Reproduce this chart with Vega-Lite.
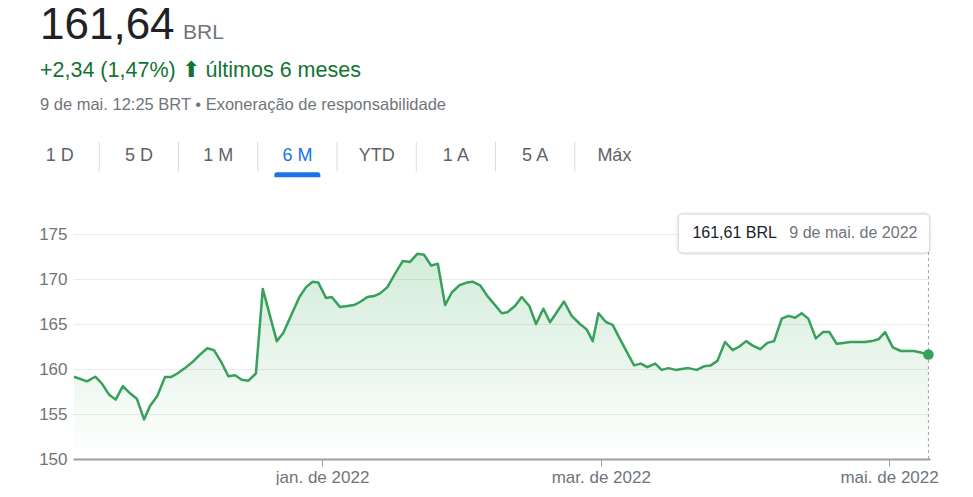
{
  "$schema": "https://vega.github.io/schema/vega-lite/v6.json",
  "background": "white",
  "padding": {"left": 20, "top": 4, "right": 0, "bottom": 0},
  "bounds": "flush",
  "spacing": 0,
  "config": {
    "view": {"stroke": null},
    "font": "Liberation Sans",
    "title": {"anchor": "start", "frame": "group", "offset": 0, "baseline": "alphabetic", "font": "Liberation Sans", "fontWeight": "normal", "dx": 20},
    "locale": {
      "number": {"decimal": ",", "thousands": ".", "grouping": [3], "currency": ["", " BRL"]},
      "time": {
        "dateTime": "%A, %e de %B de %Y. %X",
        "date": "%d/%m/%Y",
        "time": "%H:%M:%S",
        "periods": ["AM", "PM"],
        "days": ["domingo", "segunda", "terça", "quarta", "quinta", "sexta", "sábado"],
        "shortDays": ["dom", "seg", "ter", "qua", "qui", "sex", "sáb"],
        "months": ["janeiro", "fevereiro", "março", "abril", "maio", "junho", "julho", "agosto", "setembro", "outubro", "novembro", "dezembro"],
        "shortMonths": ["jan.", "fev.", "mar.", "abr.", "mai.", "jun.", "jul.", "ago.", "set.", "out.", "nov.", "dez."]
      }
    }
  },
  "datasets": {
    "tabs": [
      {"tab": "1 D", "selected": false},
      {"tab": "5 D", "selected": false},
      {"tab": "1 M", "selected": false},
      {"tab": "6 M", "selected": true},
      {"tab": "YTD", "selected": false},
      {"tab": "1 A", "selected": false},
      {"tab": "5 A", "selected": false},
      {"tab": "Máx", "selected": false}
    ],
    "prices": [
      {"date": "2021-11-09T12:00:00Z", "price": 159.14},
      {"date": "2021-11-12T06:00:00Z", "price": 158.63},
      {"date": "2021-11-14T00:00:00Z", "price": 159.14},
      {"date": "2021-11-15T09:00:00Z", "price": 158.4},
      {"date": "2021-11-17T00:00:00Z", "price": 157.1},
      {"date": "2021-11-18T08:00:00Z", "price": 156.6},
      {"date": "2021-11-19T20:00:00Z", "price": 158.1},
      {"date": "2021-11-21T09:00:00Z", "price": 157.3},
      {"date": "2021-11-22T19:00:00Z", "price": 156.7},
      {"date": "2021-11-24T08:00:00Z", "price": 154.4},
      {"date": "2021-11-25T14:00:00Z", "price": 155.9},
      {"date": "2021-11-27T03:00:00Z", "price": 157.0},
      {"date": "2021-11-28T18:00:00Z", "price": 159.1},
      {"date": "2021-11-30T00:00:00Z", "price": 159.1},
      {"date": "2021-12-01T09:00:00Z", "price": 159.5},
      {"date": "2021-12-03T00:00:00Z", "price": 160.1},
      {"date": "2021-12-04T15:00:00Z", "price": 160.8},
      {"date": "2021-12-06T04:00:00Z", "price": 161.6},
      {"date": "2021-12-07T17:00:00Z", "price": 162.3},
      {"date": "2021-12-09T03:00:00Z", "price": 162.1},
      {"date": "2021-12-10T18:00:00Z", "price": 160.7},
      {"date": "2021-12-12T04:00:00Z", "price": 159.2},
      {"date": "2021-12-13T14:00:00Z", "price": 159.3},
      {"date": "2021-12-15T00:00:00Z", "price": 158.8},
      {"date": "2021-12-16T10:00:00Z", "price": 158.7},
      {"date": "2021-12-18T00:00:00Z", "price": 159.5},
      {"date": "2021-12-19T11:00:00Z", "price": 168.9},
      {"date": "2021-12-22T10:00:00Z", "price": 163.1},
      {"date": "2021-12-23T19:00:00Z", "price": 164.0},
      {"date": "2021-12-25T14:00:00Z", "price": 166.1},
      {"date": "2021-12-27T05:00:00Z", "price": 168.0},
      {"date": "2021-12-28T15:00:00Z", "price": 169.1},
      {"date": "2021-12-30T00:00:00Z", "price": 169.7},
      {"date": "2021-12-31T05:00:00Z", "price": 169.6},
      {"date": "2022-01-01T20:00:00Z", "price": 167.9},
      {"date": "2022-01-03T01:00:00Z", "price": 168.0},
      {"date": "2022-01-04T19:00:00Z", "price": 166.9},
      {"date": "2022-01-06T08:00:00Z", "price": 167.0},
      {"date": "2022-01-07T18:00:00Z", "price": 167.1},
      {"date": "2022-01-09T05:00:00Z", "price": 167.5},
      {"date": "2022-01-10T14:00:00Z", "price": 168.0},
      {"date": "2022-01-12T00:00:00Z", "price": 168.1},
      {"date": "2022-01-13T07:00:00Z", "price": 168.4},
      {"date": "2022-01-14T20:00:00Z", "price": 169.1},
      {"date": "2022-01-16T11:00:00Z", "price": 170.6},
      {"date": "2022-01-18T02:00:00Z", "price": 172.0},
      {"date": "2022-01-19T15:00:00Z", "price": 171.9},
      {"date": "2022-01-21T04:00:00Z", "price": 172.8},
      {"date": "2022-01-22T14:00:00Z", "price": 172.7},
      {"date": "2022-01-24T02:00:00Z", "price": 171.5},
      {"date": "2022-01-25T12:00:00Z", "price": 171.7},
      {"date": "2022-01-27T01:00:00Z", "price": 167.1},
      {"date": "2022-01-28T11:00:00Z", "price": 168.5},
      {"date": "2022-01-30T01:00:00Z", "price": 169.3},
      {"date": "2022-01-31T15:00:00Z", "price": 169.6},
      {"date": "2022-02-01T21:00:00Z", "price": 169.7},
      {"date": "2022-02-03T11:00:00Z", "price": 169.3},
      {"date": "2022-02-05T00:00:00Z", "price": 168.1},
      {"date": "2022-02-06T15:00:00Z", "price": 167.1},
      {"date": "2022-02-08T01:00:00Z", "price": 166.2},
      {"date": "2022-02-09T05:00:00Z", "price": 166.3},
      {"date": "2022-02-10T20:00:00Z", "price": 167.0},
      {"date": "2022-02-12T06:00:00Z", "price": 168.0},
      {"date": "2022-02-13T21:00:00Z", "price": 167.0},
      {"date": "2022-02-15T07:00:00Z", "price": 165.0},
      {"date": "2022-02-16T20:00:00Z", "price": 166.7},
      {"date": "2022-02-18T06:00:00Z", "price": 165.2},
      {"date": "2022-02-19T16:00:00Z", "price": 166.3},
      {"date": "2022-02-21T05:00:00Z", "price": 167.5},
      {"date": "2022-02-22T20:00:00Z", "price": 165.9},
      {"date": "2022-02-24T14:00:00Z", "price": 165.0},
      {"date": "2022-02-26T00:00:00Z", "price": 164.4},
      {"date": "2022-02-27T07:00:00Z", "price": 163.1},
      {"date": "2022-02-28T12:00:00Z", "price": 166.2},
      {"date": "2022-03-02T03:00:00Z", "price": 165.2},
      {"date": "2022-03-03T12:00:00Z", "price": 164.9},
      {"date": "2022-03-05T02:00:00Z", "price": 163.3},
      {"date": "2022-03-06T12:00:00Z", "price": 161.9},
      {"date": "2022-03-08T01:00:00Z", "price": 160.4},
      {"date": "2022-03-09T11:00:00Z", "price": 160.6},
      {"date": "2022-03-10T20:00:00Z", "price": 160.2},
      {"date": "2022-03-12T12:00:00Z", "price": 160.6},
      {"date": "2022-03-13T21:00:00Z", "price": 159.9},
      {"date": "2022-03-15T07:00:00Z", "price": 160.1},
      {"date": "2022-03-16T21:00:00Z", "price": 159.9},
      {"date": "2022-03-18T03:00:00Z", "price": 160.0},
      {"date": "2022-03-19T12:00:00Z", "price": 160.1},
      {"date": "2022-03-21T07:00:00Z", "price": 159.9},
      {"date": "2022-03-22T20:00:00Z", "price": 160.3},
      {"date": "2022-03-24T06:00:00Z", "price": 160.4},
      {"date": "2022-03-25T16:00:00Z", "price": 160.9},
      {"date": "2022-03-27T07:00:00Z", "price": 163.0},
      {"date": "2022-03-28T22:00:00Z", "price": 162.1},
      {"date": "2022-03-30T08:00:00Z", "price": 162.5},
      {"date": "2022-03-31T18:00:00Z", "price": 163.1},
      {"date": "2022-04-02T04:00:00Z", "price": 162.6},
      {"date": "2022-04-03T17:00:00Z", "price": 162.2},
      {"date": "2022-04-05T06:00:00Z", "price": 162.9},
      {"date": "2022-04-06T16:00:00Z", "price": 163.1},
      {"date": "2022-04-08T07:00:00Z", "price": 165.6},
      {"date": "2022-04-09T17:00:00Z", "price": 165.9},
      {"date": "2022-04-11T03:00:00Z", "price": 165.7},
      {"date": "2022-04-12T12:00:00Z", "price": 166.2},
      {"date": "2022-04-13T22:00:00Z", "price": 165.6},
      {"date": "2022-04-15T12:00:00Z", "price": 163.4},
      {"date": "2022-04-17T00:00:00Z", "price": 164.1},
      {"date": "2022-04-18T09:00:00Z", "price": 164.1},
      {"date": "2022-04-19T22:00:00Z", "price": 162.8},
      {"date": "2022-04-21T08:00:00Z", "price": 162.9},
      {"date": "2022-04-22T18:00:00Z", "price": 163.0},
      {"date": "2022-04-24T07:00:00Z", "price": 163.0},
      {"date": "2022-04-25T22:00:00Z", "price": 163.0},
      {"date": "2022-04-27T08:00:00Z", "price": 163.1},
      {"date": "2022-04-28T18:00:00Z", "price": 163.3},
      {"date": "2022-04-30T04:00:00Z", "price": 164.1},
      {"date": "2022-05-01T19:00:00Z", "price": 162.4},
      {"date": "2022-05-03T12:00:00Z", "price": 162.0},
      {"date": "2022-05-04T18:00:00Z", "price": 162.0},
      {"date": "2022-05-06T07:00:00Z", "price": 162.0},
      {"date": "2022-05-07T22:00:00Z", "price": 161.8},
      {"date": "2022-05-09T08:00:00Z", "price": 161.61}
    ]
  },
  "vconcat": [
    {
      "hconcat": [
        {"width": 143, "height": 1, "data": {"values": []}, "mark": "text", "encoding": {}, "title": {"text": "161,64", "fontSize": 44, "color": "#202124", "dy": -33}},
        {"width": 700, "height": 1, "data": {"values": []}, "mark": "text", "encoding": {}, "title": {"text": "BRL", "fontSize": 21, "color": "#70757a", "dy": -38}}
      ],
      "spacing": 0,
      "bounds": "flush"
    },
    {"width": 700, "height": 32, "data": {"values": []}, "mark": "text", "encoding": {}, "title": {"text": "+2,34 (1,47%) ⬆ últimos 6 meses", "fontSize": 21.5, "color": "#137333"}},
    {"width": 700, "height": 19, "data": {"values": []}, "mark": "text", "encoding": {}, "title": {"text": "9 de mai. 12:25 BRT • Exoneração de responsabilidade", "fontSize": 16.5, "color": "#70757a"}},
    {
      "width": 634,
      "height": 98,
      "data": {"name": "tabs"},
      "encoding": {
        "x": {"field": "tab", "type": "nominal", "scale": {"domain": ["1 D", "5 D", "1 M", "6 M", "YTD", "1 A", "5 A", "Máx"], "paddingInner": 0, "paddingOuter": 0}, "axis": null}
      },
      "layer": [
        {
          "transform": [{"filter": "datum.tab !== '1 D'"}],
          "mark": {"type": "rule", "color": "#dadce0", "strokeWidth": 1},
          "encoding": {
            "x": {"field": "tab", "type": "nominal", "bandPosition": 0},
            "y": {"datum": 94, "type": "quantitative", "scale": {"domain": [0, 100]}, "axis": null},
            "y2": {"datum": 64}
          }
        },
        {
          "mark": {"type": "text", "fontSize": 18, "baseline": "middle"},
          "encoding": {
            "y": {"datum": 80, "type": "quantitative", "scale": {"domain": [0, 100]}, "axis": null},
            "text": {"field": "tab"},
            "color": {"condition": {"test": "datum.selected", "value": "#1a73e8"}, "value": "#5f6368"}
          }
        },
        {
          "transform": [{"filter": "datum.selected"}],
          "mark": {"type": "bar", "color": "#1a73e8", "width": {"band": 0.58}, "cornerRadiusTopLeft": 3, "cornerRadiusTopRight": 3},
          "encoding": {
            "y": {"datum": 63, "type": "quantitative", "scale": {"domain": [0, 100]}, "axis": null},
            "y2": {"datum": 58}
          }
        }
      ]
    },
    {
      "hconcat": [
        {"width": 53, "height": 225, "data": {"values": []}, "mark": "text", "encoding": {}},
        {
          "width": 857,
          "height": 225,
          "data": {"name": "prices"},
          "encoding": {
            "x": {
              "field": "date",
              "type": "temporal",
              "scale": {"type": "utc", "domain": [{"year": 2021, "month": 11, "date": 9, "hours": 7, "utc": true}, {"year": 2022, "month": 5, "date": 9, "hours": 16, "utc": true}]},
              "axis": {
                "values": [{"year": 2022, "month": 1, "date": 1, "utc": true}, {"year": 2022, "month": 3, "date": 1, "utc": true}, {"year": 2022, "month": 5, "date": 1, "utc": true}],
                "format": "%b de %Y",
                "title": null,
                "grid": false,
                "domainColor": "#9aa0a6",
                "domainWidth": 2,
                "tickColor": "#9aa0a6",
                "tickSize": 7,
                "labelFontSize": 17,
                "labelColor": "#70757a",
                "labelPadding": 3,
                "labelFlush": false
              }
            },
            "y": {
              "field": "price",
              "type": "quantitative",
              "scale": {"domain": [150, 175], "zero": false, "nice": false},
              "axis": {
                "values": [150, 155, 160, 165, 170, 175],
                "title": null,
                "domain": false,
                "ticks": false,
                "gridColor": "#ebebeb",
                "labelFontSize": 17,
                "labelColor": "#70757a",
                "labelPadding": 6
              }
            }
          },
          "layer": [
            {
              "mark": {
                "type": "area",
                "color": {"gradient": "linear", "x1": 0, "y1": 0, "x2": 0, "y2": 1, "stops": [{"offset": 0, "color": "rgba(52,168,83,0.22)"}, {"offset": 1, "color": "rgba(52,168,83,0)"}]}
              },
              "encoding": {"y2": {"datum": 150}}
            },
            {
              "mark": {"type": "line", "color": "#37a05a", "strokeWidth": 2.5, "strokeJoin": "round"}
            },
            {
              "transform": [{"window": [{"op": "row_number", "as": "rn"}], "sort": [{"field": "date", "order": "descending"}]}, {"filter": "datum.rn === 1"}],
              "mark": {"type": "rule", "color": "#9aa0a6", "strokeDash": [3, 3], "strokeWidth": 1},
              "encoding": {"y": {"datum": 150}, "y2": {"datum": 175.2}}
            },
            {
              "transform": [{"window": [{"op": "row_number", "as": "rn"}], "sort": [{"field": "date", "order": "descending"}]}, {"filter": "datum.rn === 1"}],
              "mark": {"type": "circle", "size": 110, "color": "#37a05a", "opacity": 1}
            },
            {
              "transform": [{"window": [{"op": "row_number", "as": "rn"}], "sort": [{"field": "date", "order": "descending"}]}, {"filter": "datum.rn === 1"}],
              "mark": {"type": "rect", "fill": "white", "stroke": "#000000", "strokeOpacity": 0.07, "strokeWidth": 4, "cornerRadius": 5, "xOffset": -250, "x2Offset": 1},
              "encoding": {"x2": {"field": "date"}, "y": {"datum": 172.9}, "y2": {"datum": 177.2}}
            },
            {
              "transform": [{"window": [{"op": "row_number", "as": "rn"}], "sort": [{"field": "date", "order": "descending"}]}, {"filter": "datum.rn === 1"}],
              "mark": {"type": "rect", "fill": "white", "stroke": "#dadce0", "strokeWidth": 1, "cornerRadius": 4, "xOffset": -250, "x2Offset": 1},
              "encoding": {"x2": {"field": "date"}, "y": {"datum": 172.9}, "y2": {"datum": 177.2}}
            },
            {
              "transform": [{"window": [{"op": "row_number", "as": "rn"}], "sort": [{"field": "date", "order": "descending"}]}, {"filter": "datum.rn === 1"}],
              "mark": {"type": "text", "align": "left", "baseline": "middle", "dx": -236, "fontSize": 16, "color": "#202124"},
              "encoding": {"y": {"datum": 175.1}, "text": {"field": "price", "type": "quantitative", "format": "$.2f"}}
            },
            {
              "transform": [{"window": [{"op": "row_number", "as": "rn"}], "sort": [{"field": "date", "order": "descending"}]}, {"filter": "datum.rn === 1"}],
              "mark": {"type": "text", "align": "right", "baseline": "middle", "dx": -11, "fontSize": 16, "color": "#70757a"},
              "encoding": {"y": {"datum": 175.1}, "text": {"field": "date", "type": "temporal", "format": "%-d de %b de %Y"}}
            }
          ]
        }
      ],
      "spacing": 0,
      "bounds": "flush"
    }
  ]
}
